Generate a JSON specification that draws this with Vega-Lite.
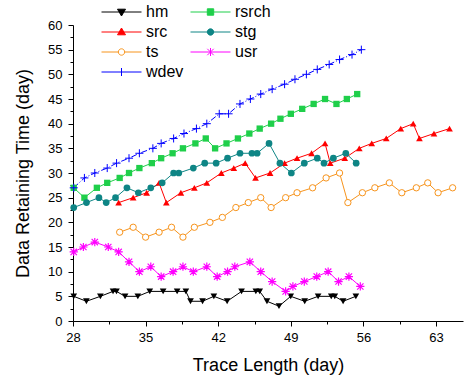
{
  "$schema": "https://vega.github.io/schema/vega-lite/v6.json",
  "width": 390,
  "height": 296,
  "autosize": "none",
  "padding": {"left": 73, "top": 25, "right": 1, "bottom": 54},
  "background": "white",
  "config": {
    "view": {"stroke": null},
    "font": "Liberation Sans",
    "axis": {"grid": false, "domainColor": "black", "tickColor": "black", "labelColor": "black", "titleColor": "black", "labelFont": "Liberation Sans", "titleFont": "Liberation Sans", "titleFontWeight": "normal", "labelFlush": false, "labelOverlap": false, "domainWidth": 1, "tickWidth": 1}
  },
  "data": {
    "values": [
      {"s":"hm","x":28.07,"y":5},{"s":"hm","x":29.29,"y":4},{"s":"hm","x":30.64,"y":5},{"s":"hm","x":31.86,"y":6},{"s":"hm","x":32.19,"y":6},{"s":"hm","x":33.02,"y":5},{"s":"hm","x":34.25,"y":5},{"s":"hm","x":35.4,"y":6},{"s":"hm","x":36.69,"y":6},{"s":"hm","x":38.04,"y":6},{"s":"hm","x":38.88,"y":6},{"s":"hm","x":39.33,"y":4},{"s":"hm","x":40.49,"y":4},{"s":"hm","x":41.58,"y":5},{"s":"hm","x":42.86,"y":4},{"s":"hm","x":44.25,"y":6},{"s":"hm","x":45.63,"y":6},{"s":"hm","x":46.0,"y":6},{"s":"hm","x":46.7,"y":4},{"s":"hm","x":47.86,"y":3},{"s":"hm","x":48.99,"y":5},{"s":"hm","x":50.34,"y":4},{"s":"hm","x":51.63,"y":5},{"s":"hm","x":52.9,"y":5},{"s":"hm","x":53.24,"y":5},{"s":"hm","x":54.04,"y":4},{"s":"hm","x":55.27,"y":5},
      {"s":"rsrch","x":28.07,"y":27},{"s":"rsrch","x":29.1,"y":25},{"s":"rsrch","x":30.3,"y":27},{"s":"rsrch","x":31.3,"y":28},{"s":"rsrch","x":32.5,"y":29},{"s":"rsrch","x":33.4,"y":30},{"s":"rsrch","x":34.4,"y":31},{"s":"rsrch","x":35.6,"y":32},{"s":"rsrch","x":36.5,"y":33},{"s":"rsrch","x":37.6,"y":34},{"s":"rsrch","x":38.6,"y":35},{"s":"rsrch","x":39.8,"y":36},{"s":"rsrch","x":40.8,"y":37},{"s":"rsrch","x":41.7,"y":35},{"s":"rsrch","x":42.8,"y":36},{"s":"rsrch","x":43.9,"y":37},{"s":"rsrch","x":45.0,"y":38},{"s":"rsrch","x":46.0,"y":39},{"s":"rsrch","x":47.1,"y":40},{"s":"rsrch","x":48.0,"y":41},{"s":"rsrch","x":49.0,"y":42},{"s":"rsrch","x":50.1,"y":43},{"s":"rsrch","x":51.2,"y":44},{"s":"rsrch","x":52.3,"y":45},{"s":"rsrch","x":53.4,"y":44},{"s":"rsrch","x":54.4,"y":45},{"s":"rsrch","x":55.4,"y":46},
      {"s":"src","x":32.4,"y":24},{"s":"src","x":33.8,"y":25},{"s":"src","x":35.1,"y":26},{"s":"src","x":36.3,"y":28},{"s":"src","x":37.0,"y":24},{"s":"src","x":38.4,"y":26},{"s":"src","x":39.7,"y":27},{"s":"src","x":40.9,"y":28},{"s":"src","x":42.3,"y":30},{"s":"src","x":43.5,"y":31},{"s":"src","x":44.6,"y":32},{"s":"src","x":45.6,"y":29},{"s":"src","x":47.0,"y":30},{"s":"src","x":48.4,"y":32},{"s":"src","x":49.6,"y":33},{"s":"src","x":51.0,"y":34},{"s":"src","x":52.3,"y":36},{"s":"src","x":52.8,"y":32},{"s":"src","x":54.2,"y":33},{"s":"src","x":55.6,"y":35},{"s":"src","x":56.8,"y":36},{"s":"src","x":58.2,"y":37},{"s":"src","x":59.6,"y":39},{"s":"src","x":60.8,"y":40},{"s":"src","x":61.4,"y":37},{"s":"src","x":62.8,"y":38},{"s":"src","x":64.3,"y":39},
      {"s":"stg","x":28.07,"y":23},{"s":"stg","x":29.3,"y":24},{"s":"stg","x":30.5,"y":25},{"s":"stg","x":31.2,"y":24},{"s":"stg","x":32.1,"y":25},{"s":"stg","x":33.2,"y":27},{"s":"stg","x":34.3,"y":26},{"s":"stg","x":35.5,"y":27},{"s":"stg","x":36.6,"y":28},{"s":"stg","x":37.7,"y":30},{"s":"stg","x":38.2,"y":30},{"s":"stg","x":39.6,"y":31},{"s":"stg","x":40.7,"y":32},{"s":"stg","x":41.8,"y":32},{"s":"stg","x":42.9,"y":33},{"s":"stg","x":44.1,"y":34},{"s":"stg","x":45.25,"y":34},{"s":"stg","x":45.75,"y":34},{"s":"stg","x":46.9,"y":36},{"s":"stg","x":47.95,"y":32},{"s":"stg","x":49.05,"y":30},{"s":"stg","x":50.3,"y":32},{"s":"stg","x":51.55,"y":33},{"s":"stg","x":52.2,"y":32},{"s":"stg","x":53.1,"y":33},{"s":"stg","x":54.3,"y":34},{"s":"stg","x":55.3,"y":32},
      {"s":"ts","x":32.5,"y":18},{"s":"ts","x":33.8,"y":19},{"s":"ts","x":35.0,"y":17},{"s":"ts","x":36.3,"y":18},{"s":"ts","x":37.5,"y":19},{"s":"ts","x":38.6,"y":17},{"s":"ts","x":39.7,"y":19},{"s":"ts","x":41.2,"y":20},{"s":"ts","x":42.4,"y":21},{"s":"ts","x":43.7,"y":23},{"s":"ts","x":44.9,"y":24},{"s":"ts","x":46.1,"y":25},{"s":"ts","x":47.1,"y":23},{"s":"ts","x":48.5,"y":25},{"s":"ts","x":49.6,"y":26},{"s":"ts","x":51.1,"y":27},{"s":"ts","x":52.4,"y":29},{"s":"ts","x":53.7,"y":30},{"s":"ts","x":54.5,"y":24},{"s":"ts","x":55.9,"y":26},{"s":"ts","x":57.1,"y":27},{"s":"ts","x":58.5,"y":28},{"s":"ts","x":59.7,"y":26},{"s":"ts","x":61.1,"y":27},{"s":"ts","x":62.2,"y":28},{"s":"ts","x":63.2,"y":26},{"s":"ts","x":64.6,"y":27},
      {"s":"usr","x":28.07,"y":14},{"s":"usr","x":29.0,"y":15},{"s":"usr","x":30.1,"y":16},{"s":"usr","x":31.4,"y":15},{"s":"usr","x":32.4,"y":14},{"s":"usr","x":33.4,"y":12},{"s":"usr","x":34.4,"y":10},{"s":"usr","x":35.5,"y":11},{"s":"usr","x":36.5,"y":9},{"s":"usr","x":37.65,"y":10},{"s":"usr","x":38.6,"y":11},{"s":"usr","x":39.6,"y":10},{"s":"usr","x":40.9,"y":11},{"s":"usr","x":41.9,"y":9},{"s":"usr","x":42.9,"y":10},{"s":"usr","x":43.6,"y":11},{"s":"usr","x":45.05,"y":12},{"s":"usr","x":46.1,"y":10},{"s":"usr","x":47.2,"y":8},{"s":"usr","x":48.5,"y":6},{"s":"usr","x":49.2,"y":7},{"s":"usr","x":50.3,"y":8},{"s":"usr","x":51.5,"y":9},{"s":"usr","x":52.6,"y":10},{"s":"usr","x":53.6,"y":8},{"s":"usr","x":54.6,"y":9},{"s":"usr","x":55.7,"y":7},
      {"s":"wdev","x":28.07,"y":27},{"s":"wdev","x":29.1,"y":29},{"s":"wdev","x":30.1,"y":30},{"s":"wdev","x":31.3,"y":31},{"s":"wdev","x":32.2,"y":32},{"s":"wdev","x":33.4,"y":33},{"s":"wdev","x":34.4,"y":34},{"s":"wdev","x":35.7,"y":35},{"s":"wdev","x":36.5,"y":36},{"s":"wdev","x":37.7,"y":37},{"s":"wdev","x":38.7,"y":38},{"s":"wdev","x":39.9,"y":39},{"s":"wdev","x":40.9,"y":40},{"s":"wdev","x":42.1,"y":42},{"s":"wdev","x":43.0,"y":42},{"s":"wdev","x":44.1,"y":44},{"s":"wdev","x":45.1,"y":45},{"s":"wdev","x":46.1,"y":46},{"s":"wdev","x":47.2,"y":47},{"s":"wdev","x":48.4,"y":48},{"s":"wdev","x":49.4,"y":49},{"s":"wdev","x":50.5,"y":50},{"s":"wdev","x":51.55,"y":51},{"s":"wdev","x":52.7,"y":52},{"s":"wdev","x":53.7,"y":53},{"s":"wdev","x":54.9,"y":54},{"s":"wdev","x":55.8,"y":55}
    ]
  },
  "encoding": {
    "x": {"field": "x", "type": "quantitative", "scale": {"domain": [28, 65.6], "nice": false, "zero": false},
      "axis": {"values": [28, 31.5, 35, 38.5, 42, 45.5, 49, 52.5, 56, 59.5, 63], "labelExpr": "datum.value % 7 === 0 ? datum.label : ''", "tickSize": {"condition": {"test": "datum.value % 7 === 0", "value": 5}, "value": 3}, "title": "Trace Length (day)", "titleFontSize": 18, "labelFontSize": 13, "labelPadding": 5, "titlePadding": 12}},
    "y": {"field": "y", "type": "quantitative", "scale": {"domain": [0, 60], "nice": false, "zero": true},
      "axis": {"values": [0, 2.5, 5, 7.5, 10, 12.5, 15, 17.5, 20, 22.5, 25, 27.5, 30, 32.5, 35, 37.5, 40, 42.5, 45, 47.5, 50, 52.5, 55, 57.5, 60], "labelExpr": "datum.value % 5 === 0 ? datum.label : ''", "tickSize": {"condition": {"test": "datum.value % 5 === 0", "value": 5}, "value": 3}, "title": "Data Retaining Time (day)", "titleFontSize": 18, "labelFontSize": 13, "labelPadding": 6, "titlePadding": 15}}
  },
  "layer": [
    {
      "transform": [{"filter": "datum.s !== 'wdev'"}],
      "mark": {"type": "line", "strokeWidth": 1},
      "encoding": {
        "color": {"field": "s", "type": "nominal",
          "scale": {"domain": ["hm", "src", "ts", "wdev", "rsrch", "stg", "usr"], "range": ["#000000", "#ff0000", "#f7941d", "#0000ff", "#1fcf4a", "#0e8585", "#ff00ff"]},
          "legend": {"title": null, "orient": "none", "legendX": 28, "legendY": -22, "columns": 2, "symbolSize": 1600, "clipHeight": 18, "rowPadding": 2, "columnPadding": 6, "labelFontSize": 16, "labelFont": "Liberation Sans", "labelColor": "black", "labelOffset": 4, "symbolStrokeWidth": 1, "padding": 0,
            "encode": {"symbols": {"update": {
              "shape": {"signal": "({'hm':'M-1,0H1M-0.2,-0.14L0.2,-0.14L0,0.2Z','rsrch':'M-1,0H1M-0.16,-0.16H0.16V0.16H-0.16Z','src':'M-1,0H1M0,-0.2L0.2,0.14L-0.2,0.14Z','stg':'M-1,0H1M-0.16,0A0.16,0.16,0,1,0,0.16,0A0.16,0.16,0,1,0,-0.16,0Z','ts':'M-1,0H-0.16M0.16,0H1M-0.16,0A0.16,0.16,0,1,0,0.16,0A0.16,0.16,0,1,0,-0.16,0Z','usr':'M-1,0H1M-0.16,-0.16L0.16,0.16M-0.16,0.16L0.16,-0.16M0,-0.2V0.2','wdev':'M-1,0H1M0,-0.2V0.2'})[datum.value]"},
              "fill": {"signal": "({'hm':'#000000','rsrch':'#1fcf4a','src':'#ff0000','stg':'#0e8585','ts':'#ffffff','usr':'transparent','wdev':'transparent'})[datum.value]"},
              "stroke": {"signal": "({'hm':'#000000','rsrch':'#1fcf4a','src':'#ff0000','stg':'#0e8585','ts':'#f7941d','usr':'#ff00ff','wdev':'#0000ff'})[datum.value]"},
              "strokeWidth": {"value": 1},
              "opacity": {"value": 1}
            }}}}
        }
      }
    },
    {
      "transform": [{"filter": "datum.s === 'wdev'"}],
      "mark": {"type": "line", "strokeWidth": 1, "strokeDash": [6, 2, 1, 2], "color": "#0000ff"},
      "encoding": {}
    },
    {"transform": [{"filter": "datum.s === 'hm'"}], "mark": {"type": "point", "shape": "triangle-down", "filled": true, "color": "#000000", "opacity": 1, "size": 45}},
    {"transform": [{"filter": "datum.s === 'rsrch'"}], "mark": {"type": "point", "shape": "square", "filled": true, "color": "#1fcf4a", "opacity": 1, "size": 40}},
    {"transform": [{"filter": "datum.s === 'src'"}], "mark": {"type": "point", "shape": "triangle-up", "filled": true, "color": "#ff0000", "opacity": 1, "size": 45}},
    {"transform": [{"filter": "datum.s === 'stg'"}], "mark": {"type": "point", "shape": "circle", "filled": true, "color": "#0e8585", "opacity": 1, "size": 45}},
    {"transform": [{"filter": "datum.s === 'ts'"}], "mark": {"type": "point", "shape": "circle", "filled": false, "fill": "#ffffff", "stroke": "#f7941d", "strokeWidth": 1, "opacity": 1, "size": 40}},
    {"transform": [{"filter": "datum.s === 'usr'"}], "mark": {"type": "point", "shape": "M-1,-1L1,1M-1,1L1,-1M0,-1.3V1.3M-1.3,0H1.3", "filled": false, "stroke": "#ff00ff", "strokeWidth": 1.2, "opacity": 1, "size": 40}},
    {"transform": [{"filter": "datum.s === 'wdev'"}], "mark": {"type": "point", "shape": "M-1.2,0H1.2M0,-1.2V1.2", "filled": false, "stroke": "#0000ff", "strokeWidth": 1, "opacity": 1, "size": 45}}
  ]
}
